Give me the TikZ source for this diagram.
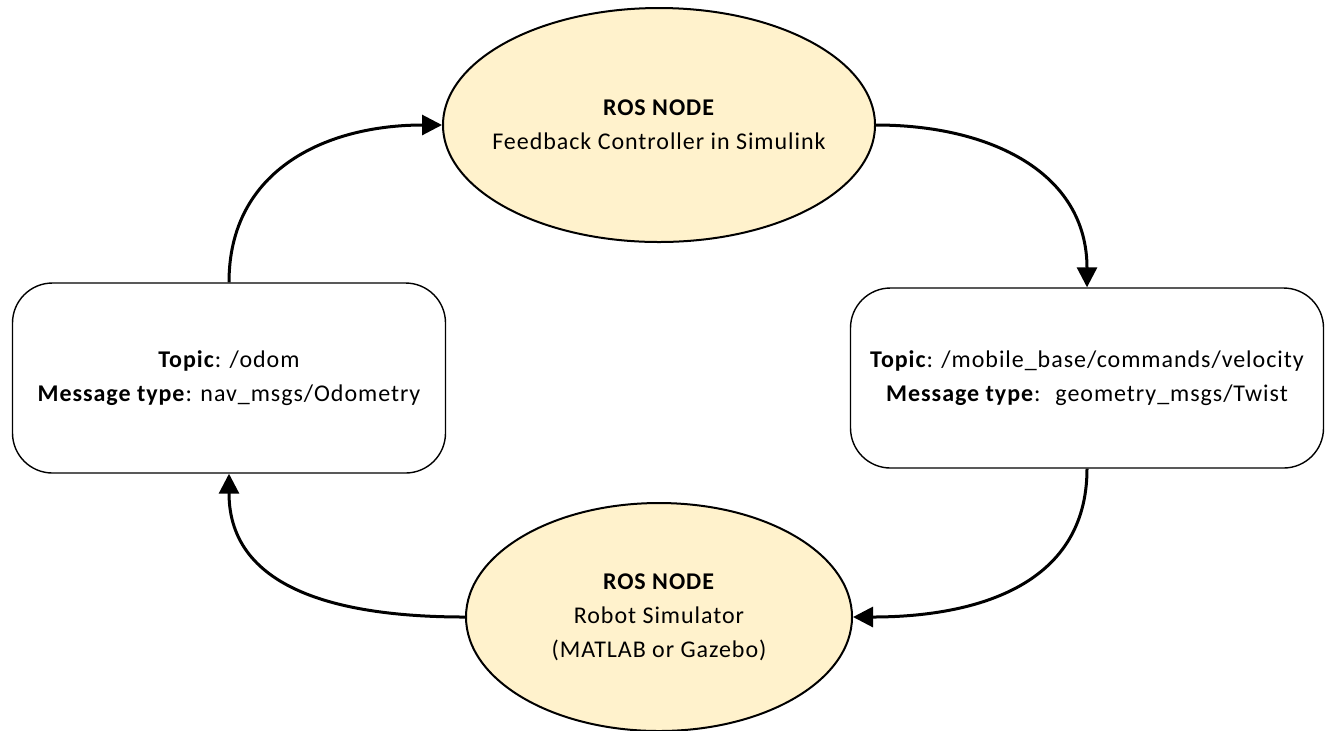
\documentclass[tikz,border=0pt]{standalone}
\usepackage{fontspec}
\setmainfont{Carlito}[LetterSpace=4]
\usetikzlibrary{arrows.meta,positioning,shapes.geometric}

\definecolor{nodefill}{RGB}{255,242,204}

\begin{document}
\begin{tikzpicture}[
  x=0.5pt, y=-0.5pt,
  on grid,
  font=\fontsize{12}{17}\selectfont,
  rosnode/.style={draw,ellipse,fill=nodefill,line width=1pt,align=center,inner sep=0pt},
  topicbox/.style={draw,rectangle,rounded corners=20pt,line width=0.7pt,align=center},
  flow/.style={line width=1.5pt,looseness=1.1,-{Triangle[length=10pt,width=10pt]}}
]
  \useasboundingbox (0,0) rectangle (1326,730);

  \node[rosnode,inner xsep=-12pt,minimum width=216pt,minimum height=117pt] (ctrl) at (659,125)
    {\textbf{ROS NODE}\\Feedback Controller in Simulink};
  \node[topicbox,minimum width=216.5pt,minimum height=95pt,below left=126.5pt and 215pt of ctrl] (odom)
    {\textbf{Topic}: /odom\\\textbf{Message type}: nav\_msgs/Odometry};
  \node[topicbox,minimum width=236.5pt,minimum height=90pt,below right=126.5pt and 214pt of ctrl] (vel)
    {\textbf{Topic}: /mobile\_base/commands/velocity\\\textbf{Message type}:~ geometry\_msgs/Twist};
  \node[rosnode,minimum width=193pt,minimum height=114pt,below=246pt of ctrl] (sim)
    {\textbf{ROS NODE}\\Robot Simulator\\(MATLAB or Gazebo)};

  \draw[flow] (odom.north) to[out=90,in=180] (ctrl.west);
  \draw[flow] (ctrl.east) to[out=0,in=90] (vel.north);
  \draw[flow] (vel.south) to[out=-90,in=0] (sim.east);
  \draw[flow] (sim.west) to[out=180,in=-90] (odom.south);
\end{tikzpicture}
\end{document}
